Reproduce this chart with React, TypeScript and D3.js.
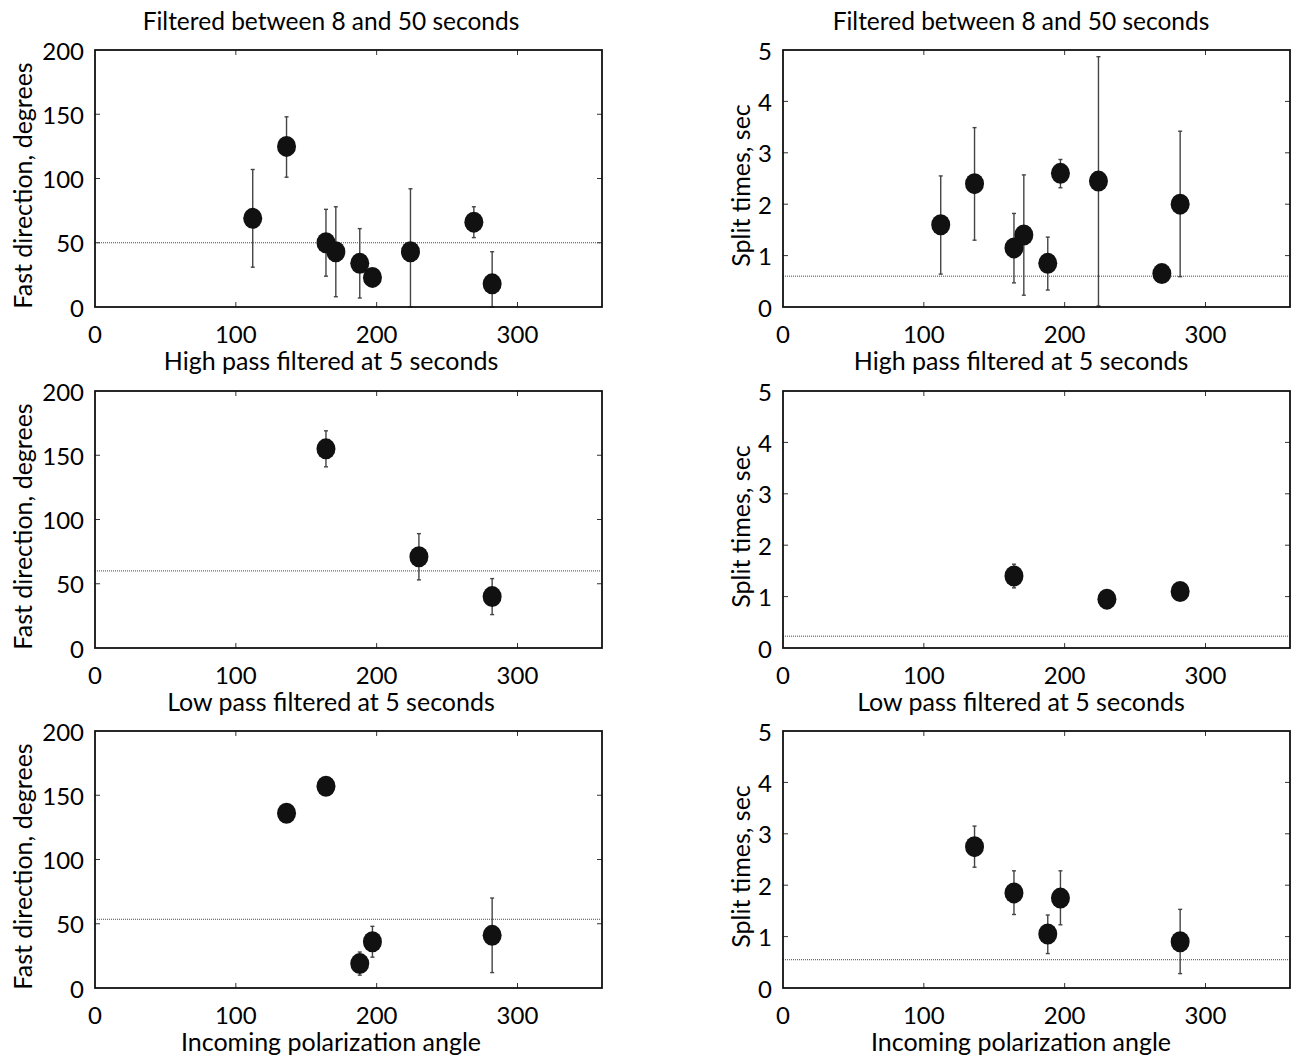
import React, { useEffect, useRef } from 'react';
import * as d3 from 'd3';

// incoming polarization angles for each filter band
const hpAngle = [112, 136, 164, 171, 188, 197, 224, 269, 282];
const lpAngle = [164, 230, 282];
const inAngle = [136, 164, 188, 197, 282];

// fast direction (degrees) with error bar ends
const hpFast = [69, 125, 50, 43, 34, 23, 43, 66, 18];
const hpFastLo = [31, 101, 24, 8, 7, 23, 0, 54, 0];
const hpFastHi = [107, 148, 76, 78, 61, 23, 92, 78, 43];
const lpFast = [155, 71, 40];
const lpFastLo = [141, 53, 26];
const lpFastHi = [169, 89, 54];
const inFast = [136, 157, 19, 36, 41];
const inFastLo = [136, 157, 10, 24, 12];
const inFastHi = [136, 157, 28, 48, 70];

// split times (sec) with error bar ends
const hpSplit = [1.6, 2.4, 1.15, 1.4, 0.85, 2.6, 2.45, 0.65, 2.0];
const hpSplitLo = [0.64, 1.3, 0.47, 0.23, 0.33, 2.32, 0.02, 0.65, 0.59];
const hpSplitHi = [2.55, 3.49, 1.82, 2.57, 1.36, 2.87, 4.87, 0.65, 3.42];
const lpSplit = [1.4, 0.95, 1.1];
const lpSplitLo = [1.17, 0.95, 1.1];
const lpSplitHi = [1.63, 0.95, 1.1];
const inSplit = [2.75, 1.85, 1.05, 1.75, 0.9];
const inSplitLo = [2.35, 1.43, 0.67, 1.23, 0.28];
const inSplitHi = [3.15, 2.28, 1.42, 2.28, 1.53];

// dotted reference levels
const fastRef = [50, 60, 53.5];
const splitRef = [0.6, 0.23, 0.55];

const xTicks = [0, 100, 200, 300];
const fastTicks = [0, 50, 100, 150, 200];
const splitTicks = [0, 1, 2, 3, 4, 5];

const topTitle = 'Filtered between 8 and 50 seconds';
const rowLabels = ['High pass filtered at 5 seconds', 'Low pass filtered at 5 seconds', 'Incoming polarization angle'];
const fastLabel = 'Fast direction, degrees';
const splitLabel = 'Split times, sec';

const FONT = 'Lato, "Open Sans", sans-serif';

const App = () => {
    const ref = useRef(null);

    useEffect(() => {
        const svg = d3.select(ref.current);
        svg.selectAll('*').remove();

        const colLeft = [95, 783];
        const plotW = 507;
        const rowTop = [50, 391, 731];
        const plotH = 257;
        const labelCx = [331, 1021];
        const yLabelX = [22, 740];

        const rows = [
            { angle: hpAngle, fast: [hpFast, hpFastLo, hpFastHi], split: [hpSplit, hpSplitLo, hpSplitHi] },
            { angle: lpAngle, fast: [lpFast, lpFastLo, lpFastHi], split: [lpSplit, lpSplitLo, lpSplitHi] },
            { angle: inAngle, fast: [inFast, inFastLo, inFastHi], split: [inSplit, inSplitLo, inSplitHi] },
        ];

        const panels = [];
        rows.forEach((r, i) => {
            panels.push({ row: i, col: 0, angle: r.angle, vals: r.fast, ref: fastRef[i], domain: [0, 200], ticks: fastTicks, label: fastLabel });
            panels.push({ row: i, col: 1, angle: r.angle, vals: r.split, ref: splitRef[i], domain: [0, 5], ticks: splitTicks, label: splitLabel });
        });

        // titles on top
        [0, 1].forEach(c => {
            svg.append('text')
                .attr('x', labelCx[c]).attr('y', 20)
                .attr('text-anchor', 'middle').attr('dominant-baseline', 'central')
                .style('font-family', FONT).style('font-size', '24.5px')
                .text(topTitle);
        });

        panels.forEach(p => {
            const x0 = colLeft[p.col];
            const y0 = rowTop[p.row];
            const x = d3.scaleLinear().domain([0, 360]).range([x0, x0 + plotW]);
            const y = d3.scaleLinear().domain(p.domain).range([y0 + plotH, y0]);
            const g = svg.append('g');

            // inward ticks on all four sides
            xTicks.slice(1).forEach(t => {
                g.append('line').attr('x1', x(t)).attr('x2', x(t)).attr('y1', y0 + plotH).attr('y2', y0 + plotH - 5)
                    .attr('stroke', '#333').attr('stroke-width', 1);
                g.append('line').attr('x1', x(t)).attr('x2', x(t)).attr('y1', y0).attr('y2', y0 + 5)
                    .attr('stroke', '#333').attr('stroke-width', 1);
            });
            p.ticks.slice(1, -1).forEach(t => {
                g.append('line').attr('x1', x0).attr('x2', x0 + 5).attr('y1', y(t)).attr('y2', y(t))
                    .attr('stroke', '#333').attr('stroke-width', 1);
                g.append('line').attr('x1', x0 + plotW).attr('x2', x0 + plotW - 5).attr('y1', y(t)).attr('y2', y(t))
                    .attr('stroke', '#333').attr('stroke-width', 1);
            });

            // tick labels
            g.selectAll('.xt').data(xTicks).enter().append('text')
                .attr('x', d => x(d)).attr('y', y0 + plotH + 26)
                .attr('text-anchor', 'middle').attr('dominant-baseline', 'central')
                .style('font-family', FONT).style('font-size', '24px')
                .text(d => d);
            g.selectAll('.yt').data(p.ticks).enter().append('text')
                .attr('x', x0 - 11).attr('y', d => y(d))
                .attr('text-anchor', 'end').attr('dominant-baseline', 'central')
                .style('font-family', FONT).style('font-size', '24px')
                .text(d => d);

            // axis labels
            const ly = y0 + plotH / 2 + 7;
            g.append('text')
                .attr('transform', `translate(${yLabelX[p.col]},${ly}) rotate(-90)`)
                .attr('text-anchor', 'middle').attr('dominant-baseline', 'central')
                .style('font-family', FONT).style('font-size', '25px')
                .text(p.label);
            g.append('text')
                .attr('x', labelCx[p.col]).attr('y', y0 + plotH + 53)
                .attr('text-anchor', 'middle').attr('dominant-baseline', 'central')
                .style('font-family', FONT).style('font-size', '25px')
                .text(rowLabels[p.row]);

            // reference level
            g.append('line')
                .attr('x1', x0).attr('x2', x0 + plotW)
                .attr('y1', y(p.ref)).attr('y2', y(p.ref))
                .attr('stroke', '#444').attr('stroke-width', 1)
                .attr('stroke-dasharray', '1,1');

            const [v, lo, hi] = p.vals;
            const pts = p.angle.map((a, i) => ({ a, v: v[i], lo: lo[i], hi: hi[i] }));

            // error bars
            const eb = g.selectAll('.eb').data(pts.filter(d => d.hi > d.lo)).enter().append('g');
            eb.append('line')
                .attr('x1', d => x(d.a)).attr('x2', d => x(d.a))
                .attr('y1', d => y(d.lo)).attr('y2', d => y(d.hi))
                .attr('stroke', '#444').attr('stroke-width', 1.4);
            eb.append('line')
                .attr('x1', d => x(d.a) - 2).attr('x2', d => x(d.a) + 2)
                .attr('y1', d => y(d.lo)).attr('y2', d => y(d.lo))
                .attr('stroke', '#444').attr('stroke-width', 1.4);
            eb.append('line')
                .attr('x1', d => x(d.a) - 2).attr('x2', d => x(d.a) + 2)
                .attr('y1', d => y(d.hi)).attr('y2', d => y(d.hi))
                .attr('stroke', '#444').attr('stroke-width', 1.4);

            // markers
            g.selectAll('.pt').data(pts).enter().append('ellipse')
                .attr('cx', d => x(d.a)).attr('cy', d => y(d.v))
                .attr('rx', 9.5).attr('ry', 10.5)
                .attr('fill', '#111');

            // frame
            g.append('rect')
                .attr('x', x0).attr('y', y0).attr('width', plotW).attr('height', plotH)
                .attr('fill', 'none').attr('stroke', '#111').attr('stroke-width', 1.8);
        });
    }, []);

    return (
        <svg ref={ref} width={1291} height={1063}
            style={{ position: 'absolute', left: 0, top: 0, background: '#fff' }}></svg>
    );
};

export default App;
